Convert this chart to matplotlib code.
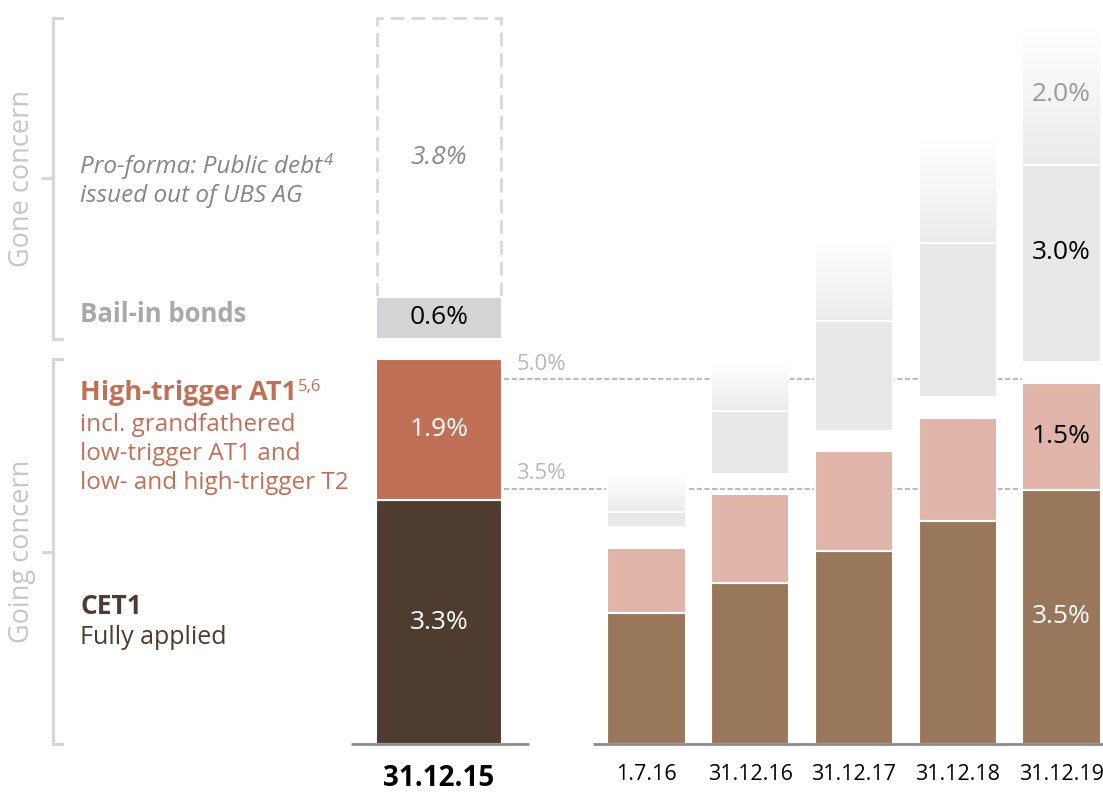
import numpy as np
import matplotlib
matplotlib.use("Agg")
import matplotlib.pyplot as plt
from matplotlib.colors import LinearSegmentedColormap

plt.rcParams['font.family'] = ['Open Sans', 'DejaVu Sans']

# ---------------- data (percent) ----------------
hist_date = "31.12.15"
hist_cet1 = 3.34
hist_at1 = 1.93
hist_bailin = 0.58
hist_proforma = 3.82
hist_value_labels = ["3.3%", "1.9%", "0.6%", "3.8%"]

phase_dates = ["1.7.16", "31.12.16", "31.12.17", "31.12.18", "31.12.19"]
phase_cet1 = [1.79, 2.21, 2.64, 3.05, 3.48]
phase_at1 = [0.90, 1.21, 1.37, 1.42, 1.47]
phase_gone = [0.21, 0.86, 1.51, 2.11, 2.70]
phase_gone_fade = [0.51, 0.68, 1.10, 1.44, 1.93]
last_value_labels = ["3.5%", "1.5%", "3.0%", "2.0%"]  # CET1, AT1, gone, faded gone

ref_levels = [3.5, 5.0]
ref_labels = ["3.5%", "5.0%"]

# ---------------- style ----------------
C_CET1_H = "#4e3c30"
C_AT1_H = "#c07056"
C_BAILIN = "#d5d5d7"
C_CET1_P = "#98775b"
C_AT1_P = "#e0b4a8"
C_GONE = "#e8e8e8"
C_FADE_END = "#ebebeb"
C_BRACKET = "#d6d6d6"
C_GREY_TXT = "#c6c6c6"
VAL_FS = 19

W, H = 1103, 795
PX0, PXU, PY0, PYU = 439.0, 103.75, 744.0, 73.0


def ux(px):
    return (px - PX0) / PXU


def vy(py):
    return (PY0 - py) / PYU


fig = plt.figure(figsize=(W / 100, H / 100), dpi=100)
ax = fig.add_axes([0, 0, 1, 1])
ax.axis('off')

x_hist = 0.0
x_phase = np.arange(2, 7).astype(float)
w_hist = 1.214
w_phase = 0.752
GAP = 0.28
EDGE = dict(edgecolor='white', linewidth=1.5)

# ---------------- historic bar ----------------
ax.bar(x_hist, hist_cet1, w_hist, color=C_CET1_H, zorder=3, **EDGE)
ax.bar(x_hist, hist_at1, w_hist, bottom=hist_cet1, color=C_AT1_H, zorder=3, **EDGE)
gone_base = hist_cet1 + hist_at1 + GAP
ax.bar(x_hist, hist_bailin, w_hist, bottom=gone_base, color=C_BAILIN, zorder=3, **EDGE)
pf_base = gone_base + hist_bailin
ax.bar(x_hist, hist_proforma, w_hist - 0.02, bottom=pf_base, fill=False,
       edgecolor='#d8d8d8', linewidth=2, linestyle=(0, (5, 2.5)), zorder=2)

ax.text(x_hist, hist_cet1 / 2, hist_value_labels[0], ha='center', va='center',
        color='white', fontsize=VAL_FS)
ax.text(x_hist, hist_cet1 + hist_at1 / 2, hist_value_labels[1], ha='center', va='center',
        color='white', fontsize=VAL_FS)
ax.text(x_hist, gone_base + hist_bailin / 2, hist_value_labels[2], ha='center', va='center',
        color='black', fontsize=VAL_FS)
ax.text(x_hist, pf_base + hist_proforma / 2, hist_value_labels[3], ha='center', va='center',
        color='#8a8a8a', fontsize=VAL_FS, style='italic')

# ---------------- phase-in bars ----------------
cet1 = np.array(phase_cet1)
at1 = np.array(phase_at1)
gone = np.array(phase_gone)
fade = np.array(phase_gone_fade)

ax.bar(x_phase, cet1, w_phase, color=C_CET1_P, zorder=3, **EDGE)
ax.bar(x_phase, at1, w_phase, bottom=cet1, color=C_AT1_P, zorder=3, **EDGE)
gone_b = cet1 + at1 + GAP
ax.bar(x_phase, gone, w_phase, bottom=gone_b, color=C_GONE, zorder=3, **EDGE)
fade_b = gone_b + gone

cmap = LinearSegmentedColormap.from_list("fade", ["#ffffff", C_FADE_END])
grad = np.linspace(1, 0, 256).reshape(-1, 1)
for xi, b, h in zip(x_phase, fade_b, fade):
    ax.imshow(grad, extent=[xi - w_phase / 2, xi + w_phase / 2, b, b + h],
              origin='lower', aspect='auto', cmap=cmap, vmin=0, vmax=1, zorder=3)
ax.bar(x_phase, fade, w_phase, bottom=fade_b, fill=False, zorder=4, **EDGE)

xl = x_phase[-1]
ax.text(xl, cet1[-1] / 2, last_value_labels[0], ha='center', va='center',
        color='white', fontsize=VAL_FS)
ax.text(xl, cet1[-1] + at1[-1] / 2, last_value_labels[1], ha='center', va='center',
        color='black', fontsize=VAL_FS)
ax.text(xl, gone_b[-1] + gone[-1] / 2 + 0.15, last_value_labels[2], ha='center', va='center',
        color='black', fontsize=VAL_FS)
ax.text(xl, fade_b[-1] + fade[-1] / 2, last_value_labels[3], ha='center', va='center',
        color='#9a9a9a', fontsize=VAL_FS)

# ---------------- reference lines ----------------
ref_x0 = x_hist + w_hist / 2 + 0.02
ref_x1 = x_phase[-1] - w_phase / 2
ax.hlines(ref_levels, ref_x0, ref_x1, colors='#bbbbbb', linestyles=(0, (2.5, 1.2)),
          linewidth=1.5, zorder=1)
for lvl, lab in zip(ref_levels, ref_labels):
    ax.text(ref_x0 + 0.12, lvl + 0.2, lab, ha='left', va='center', fontsize=16,
            color='#b8b8b8')

# ---------------- baselines ----------------
ax.plot([x_hist - 0.85, x_hist + 0.87], [0, 0], color='#8c8c8c', lw=2,
        solid_capstyle='butt', zorder=5)
ax.plot([x_phase[0] - 0.52, ux(W)], [0, 0], color='#8c8c8c', lw=2,
        solid_capstyle='butt', zorder=5)

# ---------------- x labels ----------------
ax.text(x_hist, vy(779), hist_date, ha='center', va='center', fontsize=20,
        fontweight='bold', color='black')
for xi, d in zip(x_phase, phase_dates):
    ax.text(xi, vy(775), d, ha='center', va='center', fontsize=15.5, color='black')

# ---------------- brackets ----------------
bx, bx_in, bx_out = ux(53), ux(62), ux(43)


def bracket(y0, y1, label):
    ax.plot([bx_in, bx, bx, bx_in], [y0, y0, y1, y1], color=C_BRACKET, lw=2.2,
            solid_joinstyle='miter', zorder=1)
    ym = (y0 + y1) / 2
    ax.plot([bx_out, bx], [ym, ym], color=C_BRACKET, lw=2.2, zorder=1)
    ax.text(ux(22), ym, label, rotation=90, ha='center', va='center', fontsize=19.5,
            color=C_GREY_TXT)


bracket(gone_base, pf_base + hist_proforma, "Gone concern")
bracket(0, hist_cet1 + hist_at1, "Going concern")

# ---------------- left-side category labels ----------------
lx = ux(80)


def label(py, s, sup=None, **kw):
    t = ax.text(lx, vy(py), s, ha='left', va='center', **kw)
    if sup:
        ax.annotate(sup, xy=(1, 0.42), xycoords=t, xytext=(1, 0),
                    textcoords='offset points', ha='left', va='bottom',
                    fontsize=12, color=kw.get('color', 'black'),
                    style=kw.get('style', 'normal'))
    return t


label(167, "Pro-forma: Public debt", sup="4", fontsize=17.5, style='italic', color='#858585')
label(196, "issued out of UBS AG", fontsize=17.5, style='italic', color='#858585')
label(315, "Bail-in bonds", fontsize=18.5, fontweight='bold', color='#a9a9ab')
label(393, "High-trigger AT1", sup="5,6", fontsize=19.5, fontweight='bold', color=C_AT1_H)
label(425, "incl. grandfathered", fontsize=17.5, color=C_AT1_H)
label(454, "low-trigger AT1 and", fontsize=17.5, color=C_AT1_H)
label(483, "low- and high-trigger T2", fontsize=17.5, color=C_AT1_H)
label(606, "CET1", fontsize=19, fontweight='bold', color=C_CET1_H)
label(638, "Fully applied", fontsize=18, color=C_CET1_H)

ax.set_xlim(ux(0), ux(W))
ax.set_ylim(vy(H), vy(0))

fig.savefig("out.png", dpi=100)
